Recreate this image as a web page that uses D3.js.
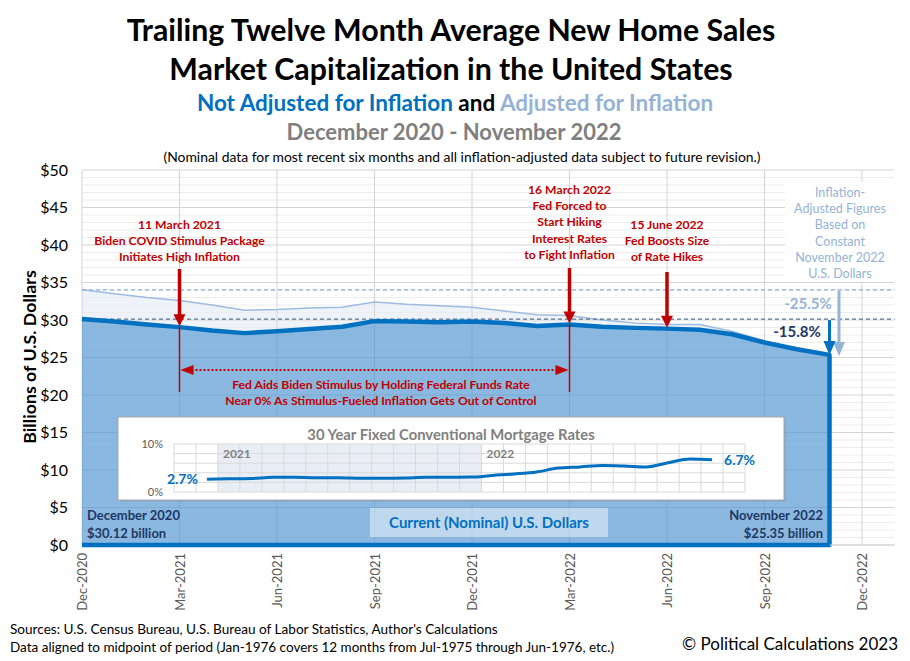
<!DOCTYPE html>
<html><head><meta charset="utf-8">
<script src="https://cdn.jsdelivr.net/npm/d3@7"></script>
<style>
body{margin:0;background:#fff;}
text{font-family:Lato,"Open Sans",sans-serif;}
</style></head>
<body>
<svg id="c" width="910" height="661"></svg>
<script>
// ---------- DATA ----------
const months = ["Dec-2020","Jan-2021","Feb-2021","Mar-2021","Apr-2021","May-2021","Jun-2021","Jul-2021","Aug-2021","Sep-2021","Oct-2021","Nov-2021",
  "Dec-2021","Jan-2022","Feb-2022","Mar-2022","Apr-2022","May-2022","Jun-2022","Jul-2022","Aug-2022","Sep-2022","Oct-2022","Nov-2022"];
const nominal = [30.12,29.8,29.4,29.05,28.6,28.25,28.5,28.8,29.1,29.85,29.8,29.7,29.8,29.6,29.2,29.4,29.1,28.95,28.85,28.7,28.1,27.0,26.1,25.35];
const adjusted = [34.03,33.5,33.0,32.6,32.0,31.3,31.4,31.6,31.7,32.4,32.1,31.9,31.7,31.2,30.7,30.6,30.0,29.6,29.4,29.4,28.5,27.2,26.1,25.35];
const mortgage = [2.68,2.74,2.81,3.08,3.06,2.96,2.98,2.87,2.84,2.90,3.07,3.07,3.10,3.45,3.76,4.17,4.98,5.23,5.52,5.41,5.22,6.11,6.90,6.70];
const xTickLabels = ["Dec-2020","Mar-2021","Jun-2021","Sep-2021","Dec-2021","Mar-2022","Jun-2022","Sep-2022","Dec-2022"];
const yTicks = [0,5,10,15,20,25,30,35,40,45,50];
const insetYTicks = [0,10];
const insetYears = [{label:"2021", col:2},{label:"2022", col:14}];

// ---------- SETUP ----------
const svg = d3.select("#c");
const L=82, R=894.5, T=170, B=545;
const x = d3.scaleLinear().domain([0,25]).range([L,R]);
const y = d3.scaleLinear().domain([0,50]).range([B,T]);
const idx = d3.range(nominal.length);
const last = nominal.length-1;

// ---------- TITLES ----------
const title = svg.append("g").attr("text-anchor","middle");
title.append("text").attr("x",451).attr("y",41).attr("font-size",30.3).attr("font-weight",700).text("Trailing Twelve Month Average New Home Sales");
title.append("text").attr("x",451).attr("y",80).attr("font-size",30.3).attr("font-weight",700).text("Market Capitalization in the United States");
const t3 = title.append("text").attr("x",455).attr("y",111).attr("font-size",22.5).attr("font-weight",700);
t3.append("tspan").attr("fill","#0070c0").text("Not Adjusted for Inflation");
t3.append("tspan").attr("fill","#000").text(" and ");
t3.append("tspan").attr("fill","#95b3d7").text("Adjusted for Inflation");
title.append("text").attr("x",454).attr("y",140).attr("font-size",22).attr("font-weight",700).attr("fill","#7f7f7f").text("December 2020 - November 2022");
title.append("text").attr("x",462).attr("y",162).attr("font-size",13.9).attr("fill","#000").text("(Nominal data for most recent six months and all inflation-adjusted data subject to future revision.)");

// ---------- ADJUSTED AREA (light) ----------
svg.append("path").datum(idx)
  .attr("d", d3.area().x(i=>x(i)).y0(y(0)).y1(i=>y(adjusted[i])))
  .attr("fill","#eef3fa");

// ---------- GRID ----------
const grid = svg.append("g");
d3.range(0,51,1).forEach(v=>{
  grid.append("line").attr("x1",L).attr("x2",R).attr("y1",y(v)).attr("y2",y(v))
    .attr("stroke", v%5===0 ? "#d4d4d4" : "#ececec").attr("stroke-width",1);
});
xTickLabels.forEach((lab,k)=>{
  grid.append("line").attr("x1",x(k*3)).attr("x2",x(k*3)).attr("y1",T).attr("y2",B)
    .attr("stroke","#d4d4d4").attr("stroke-width",1);
});

// ---------- ADJUSTED LINE ----------
svg.append("path").datum(idx)
  .attr("d", d3.line().x(i=>x(i)).y(i=>y(adjusted[i])))
  .attr("fill","none").attr("stroke","#9dbbe0").attr("stroke-width",1.5);

// ---------- NOMINAL AREA ----------
svg.append("path").datum(idx)
  .attr("d", d3.area().x(i=>x(i)).y0(y(0)).y1(i=>y(nominal[i])))
  .attr("fill","#257dc7").attr("fill-opacity",0.5);

// dashed reference lines at starting values
svg.append("line").attr("x1",L).attr("x2",R).attr("y1",y(adjusted[0])).attr("y2",y(adjusted[0]))
  .attr("stroke","#8eaedb").attr("stroke-width",1.2).attr("stroke-dasharray","4,3");
svg.append("line").attr("x1",L).attr("x2",R).attr("y1",y(nominal[0])).attr("y2",y(nominal[0]))
  .attr("stroke","#5b7290").attr("stroke-width",1.2).attr("stroke-dasharray","4,3");

// nominal outline (top, right edge, bottom)
const outline = idx.map(i=>[x(i),y(nominal[i])]);
outline.push([x(last),y(0)]);
outline.push([x(0),y(0)]);
svg.append("path").attr("d", d3.line()(outline))
  .attr("fill","none").attr("stroke","#0070c0").attr("stroke-width",4.5).attr("stroke-linejoin","round");

// bottom axis line beyond area
svg.append("line").attr("x1",x(last)).attr("x2",R).attr("y1",B).attr("y2",B).attr("stroke","#d4d4d4");

// ---------- AXES LABELS ----------
const yAx = svg.append("g").attr("transform",`translate(${L},0)`)
  .call(d3.axisLeft(y).tickValues(yTicks).tickSize(0).tickPadding(14).tickFormat(d=>"$"+d));
yAx.select(".domain").remove();
yAx.selectAll("text").attr("font-size",16).attr("fill","#000").style("font-family","Lato, sans-serif");

const xAx = svg.append("g").attr("transform",`translate(0,${B})`)
  .call(d3.axisBottom(x).tickValues(d3.range(0,25,3)).tickSize(0).tickFormat((d,k)=>xTickLabels[k]));
xAx.select(".domain").remove();
xAx.selectAll("text").attr("font-size",13).attr("fill","#595959").style("font-family","Lato, sans-serif")
  .attr("text-anchor","end").attr("transform","rotate(-90)").attr("x",-8).attr("y",0).attr("dy","0.35em");

svg.append("text").attr("transform","translate(36,357) rotate(-90)").attr("text-anchor","middle")
  .attr("font-size",17.8).attr("font-weight",700).text("Billions of U.S. Dollars");

// ---------- ANNOTATIONS ----------
const red = "#c00000";
function redText(cx, y0, lines){
  const g = svg.append("g").attr("text-anchor","middle").attr("fill",red).attr("font-size",12.2).attr("font-weight",700);
  lines.forEach((s,k)=> g.append("text").attr("x",cx).attr("y",y0+k*16.2).text(s));
}
function downArrow(cx, y1, y2, color, w, head, hw){
  svg.append("line").attr("x1",cx).attr("x2",cx).attr("y1",y1).attr("y2",y2-head+1)
    .attr("stroke",color).attr("stroke-width",w);
  svg.append("path").attr("d",`M${cx-hw},${y2-head}L${cx+hw},${y2-head}L${cx},${y2}Z`).attr("fill",color);
}
// 11 March 2021
redText(x(3), 229, ["11 March 2021","Biden COVID Stimulus Package","Initiates High Inflation"]);
downArrow(x(3), 269, y(nominal[3])-1, red, 3.5, 12, 6);
svg.append("line").attr("x1",x(3)).attr("x2",x(3)).attr("y1",y(nominal[3])).attr("y2",392).attr("stroke",red).attr("stroke-width",1.5);
// 16 March 2022
redText(x(15), 194, ["16 March 2022","Fed Forced to","Start Hiking","Interest Rates","to Fight Inflation"]);
downArrow(x(15), 268, y(nominal[15])-1, red, 3.5, 12, 6);
svg.append("line").attr("x1",x(15)).attr("x2",x(15)).attr("y1",y(nominal[15])).attr("y2",392).attr("stroke",red).attr("stroke-width",1.5);
// 15 June 2022
redText(x(18), 229, ["15 June 2022","Fed Boosts Size","of Rate Hikes"]);
downArrow(x(18), 272, y(nominal[18])-1, red, 3.5, 12, 6);

// horizontal dotted double arrow
const hy = 370;
svg.append("line").attr("x1",x(3)+12).attr("x2",x(15)-12).attr("y1",hy).attr("y2",hy)
  .attr("stroke",red).attr("stroke-width",2).attr("stroke-dasharray","2,2");
svg.append("path").attr("d",`M${x(3)+1},${hy}L${x(3)+14},${hy-5}L${x(3)+14},${hy+5}Z`).attr("fill",red);
svg.append("path").attr("d",`M${x(15)-1},${hy}L${x(15)-14},${hy-5}L${x(15)-14},${hy+5}Z`).attr("fill",red);
redText(381, 389, ["Fed Aids Biden Stimulus by Holding Federal Funds Rate","Near 0% As Stimulus-Fueled Inflation Gets Out of Control"]);

// Inflation-adjusted explanation box
svg.append("rect").attr("x",785).attr("y",182).attr("width",109).attr("height",100).attr("fill","#fff");
const ig = svg.append("g").attr("text-anchor","middle").attr("fill","#95b3d7").attr("font-size",12.5);
["Inflation-","Adjusted Figures","Based on","Constant","November 2022","U.S. Dollars"].forEach((s,k)=>
  ig.append("text").attr("x",840).attr("y",197+k*16.2).text(s));

// percent change arrows
downArrow(x(last)+9.5, y(adjusted[0])+1, y(nominal[last])+1, "#95b3d7", 3, 14, 6);
downArrow(x(last), y(nominal[0])+1, y(nominal[last]), "#0070c0", 3, 14, 6);
svg.append("text").attr("x",808).attr("y",309).attr("text-anchor","middle").attr("font-size",15)
  .attr("font-weight",700).attr("fill","#95b3d7").text(d3.format(".1%")(nominal[last]/adjusted[0]-1).replace("−","-"));
svg.append("text").attr("x",797).attr("y",337).attr("text-anchor","middle").attr("font-size",15)
  .attr("font-weight",700).attr("fill","#1f3864").text(d3.format(".1%")(nominal[last]/nominal[0]-1).replace("−","-"));

// ---------- INSET ----------
const ix0=118, iy0=417, iw=666, ih=83;
svg.append("rect").attr("x",ix0+2).attr("y",iy0+2).attr("width",iw).attr("height",ih).attr("fill","#7f9fbf").attr("opacity",0.5);
svg.append("rect").attr("x",ix0).attr("y",iy0).attr("width",iw).attr("height",ih).attr("fill","#fff").attr("stroke","#a6a6a6");
svg.append("text").attr("x",451).attr("y",440).attr("text-anchor","middle").attr("font-size",14.8)
  .attr("font-weight",700).attr("fill","#7f7f7f").text("30 Year Fixed Conventional Mortgage Rates");
const ix = d3.scaleLinear().domain([0,26]).range([174,745]);
const iy = d3.scaleLinear().domain([0,10]).range([492,444]);
svg.append("rect").attr("x",ix(2)).attr("y",iy(10)).attr("width",ix(14)-ix(2)).attr("height",iy(0)-iy(10)).attr("fill","#e9eef6");
d3.range(0,11,2).forEach(v=> svg.append("line").attr("x1",ix(0)).attr("x2",ix(26)).attr("y1",iy(v)).attr("y2",iy(v)).attr("stroke","#d9d9d9"));
d3.range(0,27).forEach(c=> svg.append("line").attr("x1",ix(c)).attr("x2",ix(c)).attr("y1",iy(10)).attr("y2",iy(0)).attr("stroke","#d9d9d9"));
insetYears.forEach(d=> svg.append("text").attr("x",ix(d.col)+5).attr("y",458).attr("font-size",12).attr("font-weight",700).attr("fill","#7f7f7f").text(d.label));
insetYTicks.forEach(v=> svg.append("text").attr("x",163).attr("y",iy(v)+4).attr("text-anchor","end").attr("font-size",11).attr("fill","#595959").text(v+"%"));
svg.append("path").datum(idx)
  .attr("d", d3.line().x(i=>ix(i+1.5)).y(i=>iy(mortgage[i])).curve(d3.curveMonotoneX))
  .attr("fill","none").attr("stroke","#0070c0").attr("stroke-width",3);
svg.append("text").attr("x",ix(1.5)-9).attr("y",iy(mortgage[0])+5).attr("text-anchor","end").attr("font-size",14)
  .attr("font-weight",700).attr("fill","#0070c0").text(mortgage[0].toFixed(1)+"%");
svg.append("text").attr("x",ix(last+1.5)+12).attr("y",iy(mortgage[last])+5).attr("font-size",14)
  .attr("font-weight",700).attr("fill","#0070c0").text(mortgage[last].toFixed(1)+"%");

// ---------- AREA LABELS ----------
svg.append("rect").attr("x",370).attr("y",508).attr("width",238).attr("height",29).attr("fill","#fff").attr("opacity",0.45);
svg.append("text").attr("x",489).attr("y",528).attr("text-anchor","middle").attr("font-size",15)
  .attr("font-weight",700).attr("fill","#0070c0").text("Current (Nominal) U.S. Dollars");
const navy="#1f3864";
svg.append("text").attr("x",87).attr("y",520).attr("font-size",13).attr("font-weight",700).attr("fill",navy).text("December 2020");
svg.append("text").attr("x",87).attr("y",538).attr("font-size",13).attr("font-weight",700).attr("fill",navy).text("$"+nominal[0].toFixed(2)+" billion");
svg.append("text").attr("x",823).attr("y",520).attr("text-anchor","end").attr("font-size",13).attr("font-weight",700).attr("fill",navy).text("November 2022");
svg.append("text").attr("x",823).attr("y",538).attr("text-anchor","end").attr("font-size",13).attr("font-weight",700).attr("fill",navy).text("$"+nominal[last].toFixed(2)+" billion");

// ---------- FOOTER ----------
svg.append("text").attr("x",10).attr("y",634).attr("font-size",13.6).text("Sources: U.S. Census Bureau, U.S. Bureau of Labor Statistics, Author's Calculations");
svg.append("text").attr("x",10).attr("y",652).attr("font-size",13.5).text("Data aligned to midpoint of period (Jan-1976 covers 12 months from Jul-1975 through Jun-1976, etc.)");
svg.append("text").attr("x",898).attr("y",650).attr("text-anchor","end").attr("font-size",17).text("© Political Calculations 2023");
</script>
</body></html>
